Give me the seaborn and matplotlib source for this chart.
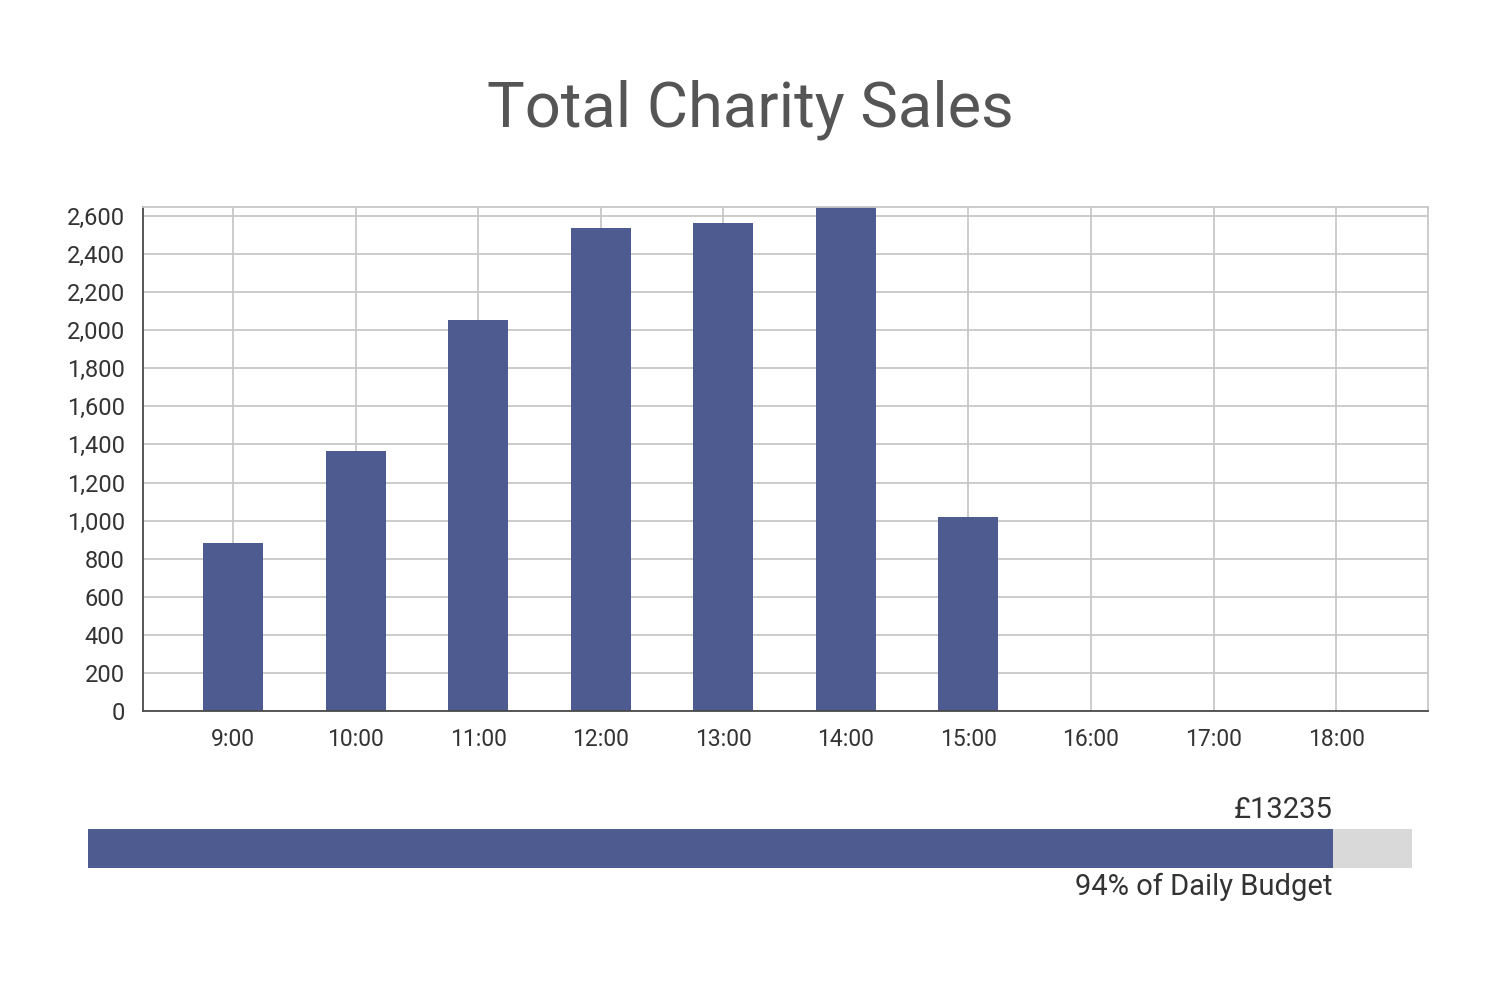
import matplotlib
matplotlib.use("Agg")
import matplotlib.pyplot as plt
import matplotlib.ticker as mticker
import seaborn as sns
import pandas as pd

# hourly sales (14:00 runs past the top of the axes)
hours = ["9:00", "10:00", "11:00", "12:00", "13:00", "14:00",
         "15:00", "16:00", "17:00", "18:00"]
sales = [882, 1366, 2054, 2537, 2563, 2814, 1019, 0, 0, 0]
total_label = "£13235"
budget_pct = 94

bar_col = "#4d5b91"
grid_col = "#c8c8c8"

sns.set_style("white")
plt.rcParams["font.family"] = ["Roboto", "DejaVu Sans"]

df = pd.DataFrame({"hour": hours, "sales": sales})

fig = plt.figure(figsize=(15, 10), dpi=100)
ax = fig.add_axes([0.0953, 0.289, 0.8567, 0.504])

sns.barplot(data=df, x="hour", y="sales", order=hours, color=bar_col,
            saturation=1, width=0.49, linewidth=0, ax=ax)

ax.set_xlim(-0.735, len(hours) - 0.25)
ax.set_ylim(0, 2647)
ax.yaxis.set_major_locator(mticker.MultipleLocator(200))
ax.yaxis.set_major_formatter(mticker.StrMethodFormatter("{x:,.0f}"))
ax.set_xlabel("")
ax.set_ylabel("")

ax.grid(True, color=grid_col, linewidth=1.3)
ax.set_axisbelow(True)
for side in ["top", "right"]:
    ax.spines[side].set_color(grid_col)
    ax.spines[side].set_linewidth(1.3)
for side in ["left", "bottom"]:
    ax.spines[side].set_color("#4a4a4a")
    ax.spines[side].set_linewidth(1.3)

ax.tick_params(axis="y", length=9, width=1.3, color=grid_col,
               labelsize=17, labelcolor="#333333", pad=4)
ax.tick_params(axis="x", length=6, width=1.3, color=grid_col,
               labelsize=16.5, labelcolor="#333333", pad=6)
ax.set_xticks([-0.735, len(hours) - 0.25], minor=True)
ax.tick_params(axis="x", which="minor", length=6, width=1.3, color=grid_col)

fig.text(0.5, 0.89, "Total Charity Sales", ha="center", va="center",
         fontsize=45.5, color="#555555")

# progress bar towards the daily budget
pax = fig.add_axes([0.0587, 0.132, 0.8827, 0.039])
pax.barh([0], [100], height=1, color="#d9d9d9", linewidth=0)
pax.barh([0], [budget_pct], height=1, color=bar_col, linewidth=0)
pax.set_xlim(0, 100)
pax.set_ylim(-0.5, 0.5)
pax.axis("off")
pax.text(budget_pct, 0.62, total_label, ha="right", va="bottom",
         fontsize=21, color="#333333")
pax.text(budget_pct, -0.62, f"{budget_pct}% of Daily Budget", ha="right",
         va="top", fontsize=21, color="#333333")

fig.savefig("out.png", dpi=100, facecolor="white")
